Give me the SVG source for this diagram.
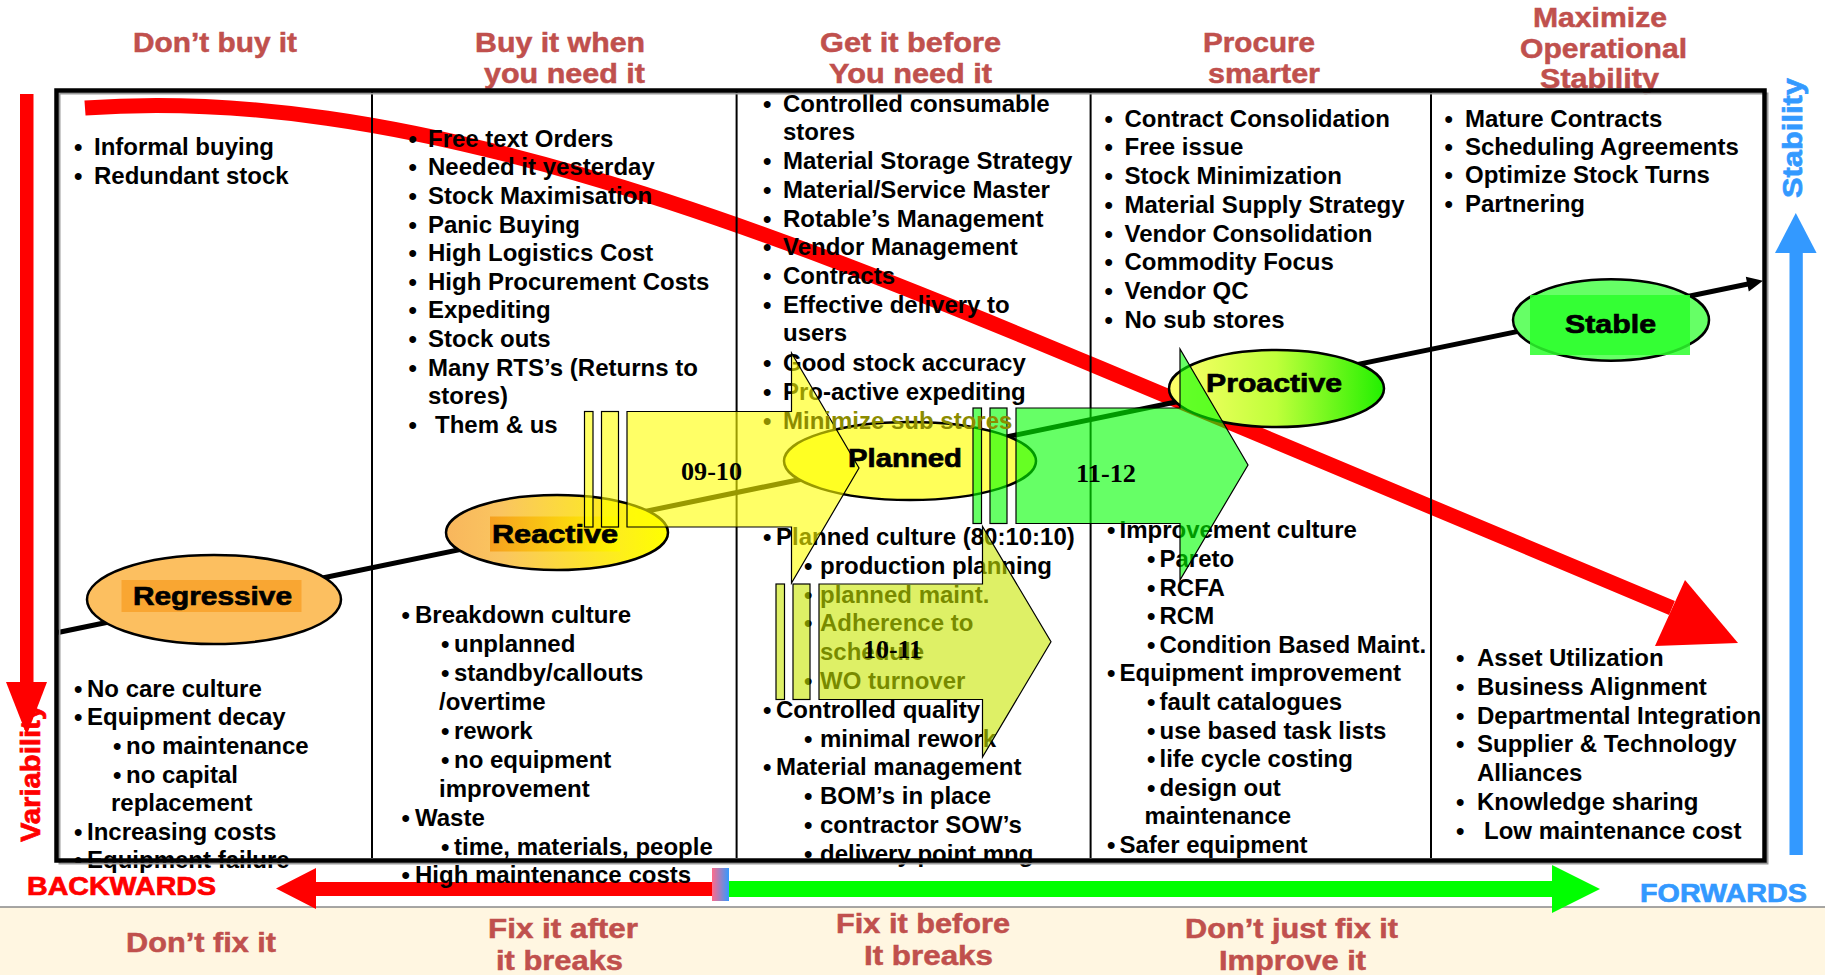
<svg xmlns="http://www.w3.org/2000/svg" width="1825" height="975" viewBox="0 0 1825 975">
<defs>
<style>
.t{font-family:"Liberation Sans",Arial,sans-serif;font-weight:bold;font-size:24px;fill:#000}
.ol{fill:#8C8C00}
.h{font-family:"Liberation Sans",Arial,sans-serif;font-weight:bold;font-size:27px;fill:#C0504D;stroke:#C0504D;stroke-width:0.5}
.n{font-family:"Liberation Sans",Arial,sans-serif;font-weight:bold;font-size:26px;fill:#000;stroke:#000;stroke-width:0.7}
.a{font-family:"Liberation Serif","Times New Roman",serif;font-weight:bold;font-size:26px;fill:#000}
.dv{stroke:#000;stroke-width:2}
.el{stroke:#000;stroke-width:2.5}
.ar{stroke:#000;stroke-width:1.2;stroke-opacity:1;fill-opacity:0.6}
</style>
<linearGradient id="gReact" x1="0" y1="0" x2="1" y2="0"><stop offset="0" stop-color="#F8B65C"/><stop offset="0.25" stop-color="#FAC560"/><stop offset="1" stop-color="#FFFF00"/></linearGradient>
<linearGradient id="gReactIn" x1="0" y1="0" x2="1" y2="0"><stop offset="0" stop-color="#F6A020"/><stop offset="1" stop-color="#FFF800"/></linearGradient>
<linearGradient id="gPro" x1="0" y1="0" x2="1" y2="0"><stop offset="0" stop-color="#FFFF6A"/><stop offset="0.5" stop-color="#BFFF3A"/><stop offset="1" stop-color="#22F000"/></linearGradient>
<linearGradient id="gMid" x1="0" y1="0" x2="1" y2="0"><stop offset="0" stop-color="#FF6B8A"/><stop offset="1" stop-color="#3399FF"/></linearGradient>
</defs>
<rect width="1825" height="975" fill="#FFFFFF"/>
<rect x="0" y="907" width="1825" height="68" fill="#FFF6E1"/>
<line x1="0" y1="907" x2="1825" y2="907" stroke="#888" stroke-width="1.5"/>

<g id="connectors">
<path d="M85 108 C400 85 750 221 1100 368 L1672 608" fill="none" stroke="#FF0000" stroke-width="15"/>
<polygon points="1685,580 1738,643 1655,646" fill="#FF0000"/>
<line x1="58" y1="632.5" x2="1748" y2="284" stroke="#000" stroke-width="5"/>
<polygon points="1763,280.8 1745.8,276.7 1748.8,291.4" fill="#000"/>
</g>

<g id="dividers">
<line class="dv" x1="372" y1="92" x2="372" y2="858"/>
<line class="dv" x1="736.6" y1="92" x2="736.6" y2="858"/>
<line class="dv" x1="1090.6" y1="92" x2="1090.6" y2="858"/>
<line class="dv" x1="1431" y1="92" x2="1431" y2="858"/>
</g>

<g id="headers">
<text class="h" x="133" y="52" textLength="164" lengthAdjust="spacingAndGlyphs">Don’t buy it</text>
<text class="h" x="475" y="52" textLength="170" lengthAdjust="spacingAndGlyphs">Buy it when</text>
<text class="h" x="484" y="83" textLength="161" lengthAdjust="spacingAndGlyphs">you need it</text>
<text class="h" x="820" y="52" textLength="181" lengthAdjust="spacingAndGlyphs">Get it before</text>
<text class="h" x="829" y="83" textLength="163" lengthAdjust="spacingAndGlyphs">You need it</text>
<text class="h" x="1203" y="52" textLength="112" lengthAdjust="spacingAndGlyphs">Procure</text>
<text class="h" x="1208" y="83" textLength="112" lengthAdjust="spacingAndGlyphs">smarter</text>
<text class="h" x="1533" y="27" textLength="134" lengthAdjust="spacingAndGlyphs">Maximize</text>
<text class="h" x="1520" y="58" textLength="167" lengthAdjust="spacingAndGlyphs">Operational</text>
<text class="h" x="1540" y="88" textLength="119" lengthAdjust="spacingAndGlyphs">Stability</text>
</g>

<g id="col1">
<text class="t" x="74" y="155">•</text><text class="t" x="94" y="155">Informal buying</text>
<text class="t" x="74" y="183.5">•</text><text class="t" x="94" y="183.5">Redundant stock</text>
<text class="t" x="74" y="696.7">•</text><text class="t" x="87" y="696.7">No care culture</text>
<text class="t" x="74" y="725.3">•</text><text class="t" x="87" y="725.3">Equipment decay</text>
<text class="t" x="113" y="753.9">•</text><text class="t" x="126" y="753.9">no maintenance</text>
<text class="t" x="113" y="782.5">•</text><text class="t" x="126" y="782.5">no capital</text>
<text class="t" x="111" y="811.1">replacement</text>
<text class="t" x="74" y="839.7">•</text><text class="t" x="87" y="839.7">Increasing costs</text>
<text class="t" x="74" y="868.3">•</text><text class="t" x="87" y="868.3">Equipment failure</text>
</g>

<g id="col2">
<text class="t" x="408.5" y="146.7">•</text><text class="t" x="428" y="146.7">Free text Orders</text>
<text class="t" x="408.5" y="175.3">•</text><text class="t" x="428" y="175.3">Needed it yesterday</text>
<text class="t" x="408.5" y="203.9">•</text><text class="t" x="428" y="203.9">Stock Maximisation</text>
<text class="t" x="408.5" y="232.5">•</text><text class="t" x="428" y="232.5">Panic Buying</text>
<text class="t" x="408.5" y="261.1">•</text><text class="t" x="428" y="261.1">High Logistics Cost</text>
<text class="t" x="408.5" y="289.7">•</text><text class="t" x="428" y="289.7">High Procurement Costs</text>
<text class="t" x="408.5" y="318.3">•</text><text class="t" x="428" y="318.3">Expediting</text>
<text class="t" x="408.5" y="346.9">•</text><text class="t" x="428" y="346.9">Stock outs</text>
<text class="t" x="408.5" y="375.5">•</text><text class="t" x="428" y="375.5">Many RTS’s (Returns to</text>
<text class="t" x="428" y="404.1">stores)</text>
<text class="t" x="408.5" y="432.7">•</text><text class="t" x="435" y="432.7">Them &amp; us</text>
<text class="t" x="401.5" y="623.3">•</text><text class="t" x="415" y="623.3">Breakdown culture</text>
<text class="t" x="441" y="652.2">•</text><text class="t" x="454" y="652.2">unplanned</text>
<text class="t" x="441" y="681.1">•</text><text class="t" x="454" y="681.1">standby/callouts</text>
<text class="t" x="439" y="710">/overtime</text>
<text class="t" x="441" y="738.9">•</text><text class="t" x="454" y="738.9">rework</text>
<text class="t" x="441" y="767.8">•</text><text class="t" x="454" y="767.8">no equipment</text>
<text class="t" x="439" y="796.7">improvement</text>
<text class="t" x="401.5" y="825.6">•</text><text class="t" x="415" y="825.6">Waste</text>
<text class="t" x="441" y="854.5">•</text><text class="t" x="454" y="854.5">time, materials, people</text>
</g>

<g id="col3">
<text class="t" x="763" y="111.7">•</text><text class="t" x="783" y="111.7">Controlled consumable</text>
<text class="t" x="783" y="140.4">stores</text>
<text class="t" x="763" y="169.1">•</text><text class="t" x="783" y="169.1">Material Storage Strategy</text>
<text class="t" x="763" y="197.8">•</text><text class="t" x="783" y="197.8">Material/Service Master</text>
<text class="t" x="763" y="226.5">•</text><text class="t" x="783" y="226.5">Rotable’s Management</text>
<text class="t" x="763" y="255.2">•</text><text class="t" x="783" y="255.2">Vendor Management</text>
<text class="t" x="763" y="283.9">•</text><text class="t" x="783" y="283.9">Contracts</text>
<text class="t" x="763" y="312.6">•</text><text class="t" x="783" y="312.6">Effective delivery to</text>
<text class="t" x="783" y="341.3">users</text>
<text class="t" x="763" y="371">•</text><text class="t" x="783" y="371">Good stock accuracy</text>
<text class="t" x="763" y="399.7">•</text><text class="t" x="783" y="399.7">Pro-active expediting</text>
<text class="t" x="763" y="545">•</text><text class="t" x="776" y="545">Planned culture (80:10:10)</text>
<text class="t" x="804" y="573.8">•</text><text class="t" x="820" y="573.8">production planning</text>
<text class="t" x="804" y="602.6">•</text><text class="t" x="820" y="602.6">planned maint.</text>
<text class="t" x="804" y="631.4">•</text><text class="t" x="820" y="631.4">Adherence to</text>
<text class="t" x="820" y="660.2">schedule</text>
<text class="t" x="804" y="689">•</text><text class="t" x="820" y="689">WO turnover</text>
<text class="t" x="763" y="717.8">•</text><text class="t" x="776" y="717.8">Controlled quality</text>
<text class="t" x="804" y="746.6">•</text><text class="t" x="820" y="746.6">minimal rework</text>
<text class="t" x="763" y="775.4">•</text><text class="t" x="776" y="775.4">Material management</text>
<text class="t" x="804" y="804.2">•</text><text class="t" x="820" y="804.2">BOM’s in place</text>
<text class="t" x="804" y="833">•</text><text class="t" x="820" y="833">contractor SOW’s</text>
<text class="t" x="804" y="861.8">•</text><text class="t" x="820" y="861.8">delivery point mng</text>
</g>

<g id="col4">
<text class="t" x="1104.5" y="126.7">•</text><text class="t" x="1124.5" y="126.7">Contract Consolidation</text>
<text class="t" x="1104.5" y="155.4">•</text><text class="t" x="1124.5" y="155.4">Free issue</text>
<text class="t" x="1104.5" y="184.1">•</text><text class="t" x="1124.5" y="184.1">Stock Minimization</text>
<text class="t" x="1104.5" y="212.8">•</text><text class="t" x="1124.5" y="212.8">Material Supply Strategy</text>
<text class="t" x="1104.5" y="241.5">•</text><text class="t" x="1124.5" y="241.5">Vendor Consolidation</text>
<text class="t" x="1104.5" y="270.2">•</text><text class="t" x="1124.5" y="270.2">Commodity Focus</text>
<text class="t" x="1104.5" y="298.9">•</text><text class="t" x="1124.5" y="298.9">Vendor QC</text>
<text class="t" x="1104.5" y="327.6">•</text><text class="t" x="1124.5" y="327.6">No sub stores</text>
<text class="t" x="1107" y="538.3">•</text><text class="t" x="1119.5" y="538.3">Improvement culture</text>
<text class="t" x="1147" y="566.9">•</text><text class="t" x="1159.5" y="566.9">Pareto</text>
<text class="t" x="1147" y="595.5">•</text><text class="t" x="1159.5" y="595.5">RCFA</text>
<text class="t" x="1147" y="624.1">•</text><text class="t" x="1159.5" y="624.1">RCM</text>
<text class="t" x="1147" y="652.7">•</text><text class="t" x="1159.5" y="652.7">Condition Based Maint.</text>
<text class="t" x="1107" y="681.3">•</text><text class="t" x="1119.5" y="681.3">Equipment improvement</text>
<text class="t" x="1147" y="709.9">•</text><text class="t" x="1159.5" y="709.9">fault catalogues</text>
<text class="t" x="1147" y="738.5">•</text><text class="t" x="1159.5" y="738.5">use based task lists</text>
<text class="t" x="1147" y="767.1">•</text><text class="t" x="1159.5" y="767.1">life cycle costing</text>
<text class="t" x="1147" y="795.7">•</text><text class="t" x="1159.5" y="795.7">design out</text>
<text class="t" x="1144.5" y="824.3">maintenance</text>
<text class="t" x="1107" y="852.9">•</text><text class="t" x="1119.5" y="852.9">Safer equipment</text>
</g>

<g id="col5">
<text class="t" x="1444.5" y="126.7">•</text><text class="t" x="1465" y="126.7">Mature Contracts</text>
<text class="t" x="1444.5" y="155">•</text><text class="t" x="1465" y="155">Scheduling Agreements</text>
<text class="t" x="1444.5" y="183.3">•</text><text class="t" x="1465" y="183.3">Optimize Stock Turns</text>
<text class="t" x="1444.5" y="211.6">•</text><text class="t" x="1465" y="211.6">Partnering</text>
<text class="t" x="1456" y="666">•</text><text class="t" x="1477" y="666">Asset Utilization</text>
<text class="t" x="1456" y="694.8">•</text><text class="t" x="1477" y="694.8">Business Alignment</text>
<text class="t" x="1456" y="723.6">•</text><text class="t" x="1477" y="723.6">Departmental Integration</text>
<text class="t" x="1456" y="752.4">•</text><text class="t" x="1477" y="752.4">Supplier &amp; Technology</text>
<text class="t" x="1477" y="781.2">Alliances</text>
<text class="t" x="1456" y="810">•</text><text class="t" x="1477" y="810">Knowledge sharing</text>
<text class="t" x="1456" y="838.8">•</text><text class="t" x="1484" y="838.8">Low maintenance cost</text>
</g>

<g id="node-regressive">
<ellipse class="el" cx="214" cy="599.5" rx="127" ry="44.5" fill="#FCBF60"/>
<rect x="121.5" y="580" width="180" height="32" fill="#F9A632"/>
<text class="n" x="133" y="605" textLength="159" lengthAdjust="spacingAndGlyphs">Regressive</text>
</g>
<g id="node-reactive">
<ellipse class="el" cx="557" cy="532.5" rx="111" ry="37.5" fill="url(#gReact)"/>
<rect x="490" y="516.5" width="130" height="35" fill="url(#gReactIn)"/>
<text class="n" x="492" y="543.3" textLength="126" lengthAdjust="spacingAndGlyphs">Reactive</text>
</g>
<g id="node-planned">
<ellipse class="el" cx="910" cy="461" rx="126" ry="39" fill="#FFFF59"/>
</g>
<g id="node-proactive">
<ellipse class="el" cx="1276.5" cy="388.5" rx="107.5" ry="38.5" fill="url(#gPro)"/>
<text class="n" x="1206" y="392" textLength="136" lengthAdjust="spacingAndGlyphs">Proactive</text>
</g>
<g id="node-stable">
<ellipse class="el" cx="1611" cy="320" rx="98" ry="40.7" fill="#66FF66"/>
<rect x="1530" y="295" width="160" height="60" fill="#2BFF2B" fill-opacity="0.85"/>
<text class="n" x="1565" y="333.3" textLength="91" lengthAdjust="spacingAndGlyphs">Stable</text>
</g>

<g id="arrow-09-10">
<rect class="ar" x="584.5" y="411.5" width="8.5" height="115.5" fill="#FFFF00"/>
<rect class="ar" x="601.5" y="411.5" width="17" height="115.5" fill="#FFFF00"/>
<polygon class="ar" points="627,411.5 791.5,411.5 791.5,353 859,468 791.5,583 791.5,527 627,527" fill="#FFFF00"/>
<text class="a" x="681" y="480" textLength="61" lengthAdjust="spacingAndGlyphs">09-10</text>
</g>
<g id="arrow-10-11">
<rect class="ar" x="776" y="584" width="8.5" height="115.5" fill="#C8E600"/>
<rect class="ar" x="793" y="584" width="17" height="115.5" fill="#C8E600"/>
<polygon class="ar" points="819,584 982.5,584 982.5,526.5 1051,641.7 982.5,757 982.5,699.5 819,699.5" fill="#C8E600"/>
<text class="a" x="863" y="658.3" textLength="59" lengthAdjust="spacingAndGlyphs">10-11</text>
</g>
<g id="arrow-11-12">
<rect class="ar" x="973" y="408" width="8.5" height="115.5" fill="#00FF00"/>
<rect class="ar" x="990" y="408" width="17" height="115.5" fill="#00FF00"/>
<polygon class="ar" points="1016,408 1180,408 1180,349 1248,465 1180,580 1180,523.5 1016,523.5" fill="#00FF00"/>
<text class="a" x="1076" y="481.7" textLength="60" lengthAdjust="spacingAndGlyphs">11-12</text>
</g>

<text class="t ol" x="763" y="428.5">•</text><text class="t ol" x="783" y="428.5">Minimize sub stores</text>
<text class="n" x="848" y="466.7" textLength="114" lengthAdjust="spacingAndGlyphs">Planned</text>

<g id="frame">
<rect x="59.5" y="93.5" width="1708" height="770" fill="none" stroke="#999" stroke-width="2"/>
<rect x="56.5" y="90.5" width="1708" height="770" fill="none" stroke="#000" stroke-width="4.5"/>
</g>

<g id="side-arrows">
<rect x="20" y="94" width="13.5" height="589" fill="#FF0000"/>
<polygon points="6,682 47,682 26.75,735" fill="#FF0000"/>
<text class="n" transform="translate(40,842) rotate(-90)" x="0" y="0" textLength="138" lengthAdjust="spacingAndGlyphs" style="fill:#FF0000;stroke:#FF0000;font-size:28px">Variability</text>
<rect x="1789.5" y="252" width="13.3" height="603" fill="#3399FF"/>
<polygon points="1775,253 1816.6,253 1795.8,213" fill="#3399FF"/>
<text class="n" transform="translate(1802,198) rotate(-90)" x="0" y="0" textLength="120" lengthAdjust="spacingAndGlyphs" style="fill:#3399FF;stroke:#3399FF;font-size:28px">Stability</text>
</g>

<g id="bottom-arrows">
<polygon points="276,888.5 316,868 316,882 715,882 715,896 316,896 316,909" fill="#FF0000"/>
<polygon points="721,881 1552,881 1552,865 1600,889 1552,913 1552,897 721,897" fill="#00FF00"/>
<rect x="712" y="868" width="17" height="33" fill="url(#gMid)"/>
<text class="n" x="27" y="895" textLength="189" lengthAdjust="spacingAndGlyphs" style="fill:#FF0000;stroke:#FF0000;font-size:25px">BACKWARDS</text>
<text class="n" x="1640" y="902" textLength="167" lengthAdjust="spacingAndGlyphs" style="fill:#3399FF;stroke:#3399FF;font-size:26px">FORWARDS</text>
</g>
<text class="t" x="401.5" y="883.4">•</text><text class="t" x="415" y="883.4">High maintenance costs</text>

<g id="footer">
<text class="h" x="126" y="951.7" textLength="150" lengthAdjust="spacingAndGlyphs">Don’t fix it</text>
<text class="h" x="488" y="938.3" textLength="150" lengthAdjust="spacingAndGlyphs">Fix it after</text>
<text class="h" x="496" y="970" textLength="127" lengthAdjust="spacingAndGlyphs">it breaks</text>
<text class="h" x="836" y="933" textLength="174" lengthAdjust="spacingAndGlyphs">Fix it before</text>
<text class="h" x="864" y="965" textLength="129" lengthAdjust="spacingAndGlyphs">It breaks</text>
<text class="h" x="1185" y="938" textLength="213" lengthAdjust="spacingAndGlyphs">Don’t just fix it</text>
<text class="h" x="1219" y="970" textLength="147" lengthAdjust="spacingAndGlyphs">Improve it</text>
</g>
</svg>
